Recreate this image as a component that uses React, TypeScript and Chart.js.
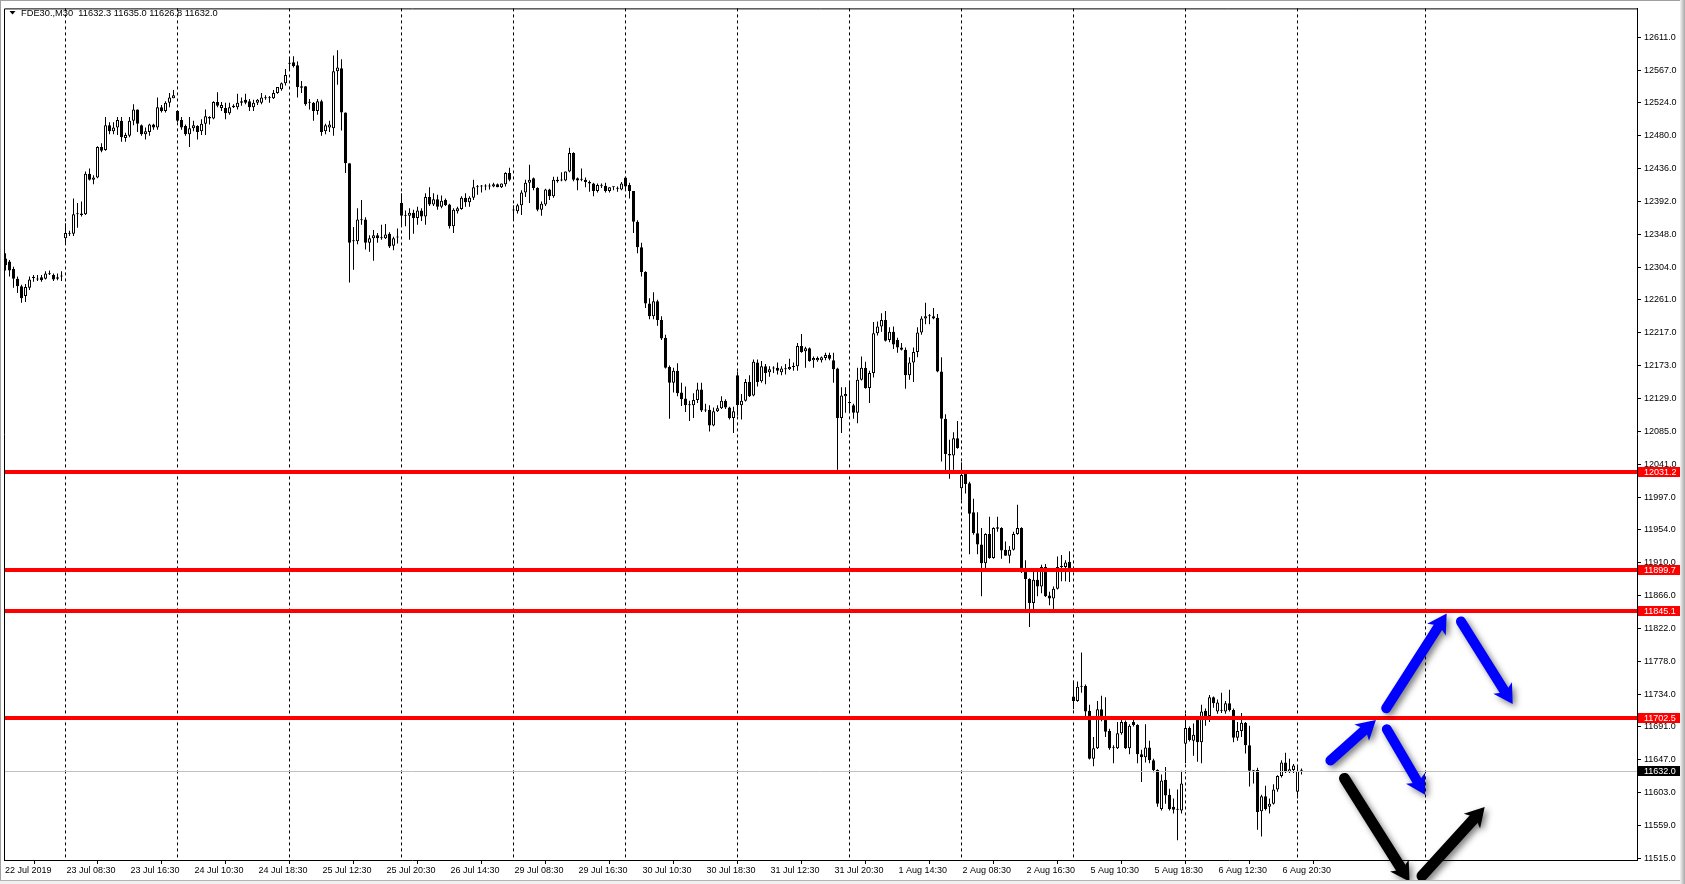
import React, { useEffect, useRef } from 'react';
import { Chart, registerables } from 'chart.js';

Chart.register(...registerables);

const SYMBOL = 'FDE30.,M30';

const opens = [
  12316, 12312, 12302, 12289, 12279, 12266, 12277, 12290, 12288, 12291,
  12289, 12296, 12294, 12289, 12292, 12343, 12349, 12349, 12375, 12376,
  12375, 12429, 12421, 12424, 12465, 12461, 12494, 12486, 12491, 12500,
  12477, 12480, 12500, 12515, 12494, 12482, 12485, 12495, 12491, 12518,
  12513, 12524, 12530, 12513, 12501, 12493, 12482, 12490, 12493, 12486,
  12496, 12503, 12503, 12525, 12517, 12517, 12510, 12518, 12518, 12524,
  12528, 12526, 12518, 12524, 12524, 12531, 12530, 12530, 12537, 12542,
  12550, 12576, 12578, 12574, 12544, 12546, 12524, 12524, 12513, 12526,
  12486, 12491, 12490, 12566, 12570, 12511, 12443, 12339, 12339, 12368,
  12368, 12337, 12343, 12347, 12343, 12343, 12349, 12333, 12344, 12390,
  12373, 12373, 12377, 12370, 12380, 12372, 12398, 12388, 12395, 12385,
  12394, 12388, 12359, 12379, 12382, 12397, 12391, 12397, 12411, 12412,
  12412, 12412, 12412, 12415, 12411, 12415, 12430, 12380, 12379, 12387,
  12404, 12417, 12423, 12410, 12381, 12388, 12408, 12399, 12421, 12420,
  12420, 12432, 12457, 12423, 12421, 12421, 12418, 12416, 12406, 12413,
  12413, 12406, 12411, 12409, 12408, 12424, 12414, 12406, 12365, 12331,
  12298, 12256, 12239, 12259, 12234, 12210, 12171, 12150, 12166, 12137,
  12129, 12120, 12120, 12127, 12141, 12113, 12114, 12093, 12112, 12116,
  12126, 12117, 12103, 12160, 12120, 12126, 12151, 12133, 12177, 12152,
  12172, 12164, 12169, 12170, 12164, 12168, 12168, 12171, 12172, 12199,
  12192, 12196, 12180, 12180, 12180, 12183, 12187, 12180, 12169, 12103,
  12132, 12123, 12120, 12110, 12154, 12170, 12143, 12163, 12216, 12225,
  12234, 12207, 12218, 12207, 12197, 12194, 12160, 12177, 12191, 12217,
  12236, 12239, 12239, 12237, 12165, 12102, 12055, 12053, 12076, 12009,
  12030, 12016, 11977, 11949, 11934, 11909, 11948, 11916, 11955, 11956,
  11927, 11919, 11927, 11948, 11956, 11901, 11888, 11856, 11887, 11878,
  11904, 11866, 11862, 11875, 11904, 11904, 11911, 11731, 11725, 11744,
  11745, 11712, 11648, 11662, 11714, 11705, 11685, 11662, 11662, 11682,
  11697, 11662, 11697, 11693, 11654, 11650, 11663, 11646, 11633, 11581,
  11620, 11600, 11584, 11580, 11579, 11668, 11689, 11672, 11701, 11670,
  11712, 11705, 11730, 11711, 11712, 11711, 11722, 11713, 11676, 11685,
  11696, 11666, 11632, 11633, 11578, 11598, 11584, 11588, 11607, 11625,
  11643, 11630, 11633, 11604, 11632.3,
];

const highs = [
  12323, 12314, 12305, 12292, 12281, 12282, 12292, 12294, 12294, 12294,
  12299, 12300, 12296, 12296, 12299, 12363, 12353, 12396, 12390, 12392,
  12432, 12436, 12427, 12466, 12470, 12505, 12498, 12498, 12505, 12505,
  12484, 12505, 12522, 12515, 12495, 12491, 12496, 12496, 12531, 12521,
  12526, 12537, 12541, 12514, 12505, 12495, 12505, 12500, 12494, 12502,
  12515, 12506, 12526, 12538, 12525, 12524, 12524, 12522, 12536, 12531,
  12536, 12529, 12528, 12529, 12537, 12534, 12533, 12541, 12545, 12551,
  12569, 12584, 12586, 12579, 12553, 12546, 12529, 12525, 12529, 12528,
  12496, 12500, 12587, 12594, 12582, 12511, 12443, 12358, 12383, 12394,
  12371, 12347, 12354, 12350, 12361, 12362, 12351, 12345, 12356, 12403,
  12380, 12383, 12381, 12385, 12383, 12403, 12411, 12403, 12401, 12400,
  12396, 12389, 12383, 12385, 12399, 12403, 12399, 12421, 12414, 12414,
  12415, 12416, 12417, 12416, 12416, 12431, 12437, 12387, 12389, 12407,
  12421, 12441, 12424, 12411, 12392, 12409, 12409, 12425, 12425, 12431,
  12432, 12464, 12458, 12424, 12436, 12424, 12420, 12417, 12416, 12416,
  12417, 12411, 12412, 12412, 12418, 12425, 12417, 12406, 12367, 12337,
  12299, 12263, 12271, 12261, 12239, 12214, 12173, 12170, 12176, 12150,
  12145, 12126, 12136, 12150, 12150, 12122, 12120, 12117, 12120, 12132,
  12128, 12118, 12118, 12165, 12135, 12155, 12160, 12181, 12181, 12179,
  12175, 12172, 12172, 12177, 12172, 12175, 12182, 12177, 12203, 12215,
  12198, 12197, 12185, 12185, 12185, 12190, 12190, 12190, 12170, 12144,
  12144, 12150, 12122, 12170, 12185, 12178, 12166, 12231, 12232, 12243,
  12246, 12224, 12225, 12210, 12203, 12197, 12184, 12197, 12224, 12239,
  12257, 12242, 12250, 12242, 12184, 12108, 12074, 12084, 12099, 12044,
  12031, 12018, 11995, 11977, 11956, 11949, 11971, 11957, 11971, 11957,
  11938, 11932, 11951, 11987, 11957, 11913, 11889, 11902, 11900, 11907,
  11908, 11871, 11878, 11918, 11920, 11913, 11925, 11752, 11751, 11790,
  11747, 11720, 11677, 11725, 11732, 11730, 11688, 11666, 11697, 11702,
  11699, 11694, 11704, 11694, 11660, 11694, 11672, 11648, 11634, 11627,
  11637, 11608, 11595, 11607, 11632, 11708, 11691, 11695, 11702, 11720,
  11715, 11733, 11731, 11727, 11736, 11725, 11740, 11715, 11697, 11709,
  11697, 11692, 11633, 11636, 11600, 11612, 11595, 11614, 11626, 11646,
  11656, 11648, 11641, 11638, 11635.0,
];

const lows = [
  12300, 12292, 12277, 12270, 12257, 12258, 12274, 12285, 12286, 12285,
  12288, 12294, 12286, 12287, 12286, 12336, 12346, 12346, 12357, 12372,
  12374, 12420, 12415, 12423, 12458, 12460, 12482, 12482, 12481, 12472,
  12472, 12478, 12494, 12485, 12480, 12475, 12480, 12488, 12488, 12511,
  12511, 12518, 12530, 12498, 12488, 12480, 12465, 12486, 12475, 12481,
  12481, 12495, 12502, 12518, 12513, 12502, 12508, 12517, 12515, 12520,
  12522, 12513, 12513, 12521, 12522, 12528, 12524, 12529, 12536, 12540,
  12547, 12567, 12571, 12531, 12537, 12520, 12515, 12500, 12508, 12480,
  12482, 12485, 12480, 12548, 12487, 12430, 12284, 12301, 12335, 12361,
  12328, 12325, 12313, 12337, 12341, 12342, 12330, 12327, 12336, 12359,
  12359, 12341, 12349, 12361, 12366, 12361, 12386, 12386, 12381, 12383,
  12386, 12356, 12350, 12376, 12381, 12385, 12385, 12394, 12401, 12404,
  12407, 12408, 12411, 12411, 12410, 12412, 12419, 12367, 12376, 12374,
  12398, 12390, 12407, 12379, 12373, 12386, 12394, 12397, 12417, 12419,
  12419, 12431, 12419, 12407, 12419, 12411, 12405, 12399, 12404, 12410,
  12404, 12404, 12407, 12405, 12407, 12407, 12396, 12350, 12323, 12292,
  12250, 12235, 12235, 12226, 12207, 12169, 12102, 12137, 12132, 12119,
  12111, 12099, 12103, 12123, 12111, 12111, 12085, 12092, 12111, 12115,
  12115, 12101, 12083, 12106, 12101, 12125, 12131, 12132, 12145, 12150,
  12148, 12158, 12163, 12161, 12160, 12161, 12167, 12166, 12166, 12190,
  12170, 12178, 12170, 12178, 12177, 12180, 12180, 12150, 12034, 12083,
  12110, 12110, 12102, 12096, 12153, 12142, 12123, 12157, 12213, 12218,
  12205, 12204, 12195, 12190, 12193, 12142, 12154, 12151, 12184, 12214,
  12228, 12228, 12235, 12164, 12045, 12030, 12022, 12034, 12062, 11993,
  12002, 11921, 11947, 11921, 11865, 11902, 11915, 11915, 11951, 11915,
  11919, 11909, 11926, 11947, 11896, 11845, 11824, 11848, 11865, 11869,
  11864, 11853, 11848, 11874, 11885, 11885, 11884, 11714, 11724, 11736,
  11705, 11647, 11638, 11661, 11698, 11677, 11660, 11642, 11661, 11680,
  11661, 11654, 11691, 11642, 11617, 11643, 11642, 11630, 11584, 11579,
  11588, 11579, 11575, 11539, 11575, 11642, 11671, 11652, 11644, 11642,
  11692, 11697, 11716, 11708, 11709, 11708, 11711, 11670, 11672, 11677,
  11655, 11611, 11615, 11553, 11544, 11579, 11575, 11587, 11604, 11623,
  11629, 11629, 11629, 11595, 11626.8,
];

const closes = [
  12307, 12300, 12289, 12279, 12263, 12278, 12288, 12291, 12289, 12287,
  12296, 12295, 12288, 12291, 12292, 12350, 12350, 12375, 12375, 12374,
  12429, 12421, 12424, 12465, 12460, 12494, 12486, 12491, 12501, 12478,
  12481, 12500, 12515, 12496, 12482, 12486, 12495, 12491, 12518, 12513,
  12524, 12531, 12534, 12500, 12491, 12482, 12490, 12494, 12485, 12496,
  12506, 12505, 12525, 12520, 12521, 12510, 12518, 12520, 12524, 12526,
  12524, 12518, 12524, 12528, 12531, 12530, 12530, 12537, 12545, 12550,
  12561, 12576, 12573, 12545, 12546, 12522, 12524, 12513, 12526, 12485,
  12494, 12495, 12566, 12571, 12511, 12443, 12337, 12339, 12368, 12367,
  12337, 12343, 12347, 12343, 12343, 12348, 12332, 12343, 12344, 12373,
  12373, 12377, 12370, 12380, 12372, 12398, 12388, 12395, 12385, 12393,
  12387, 12359, 12381, 12383, 12397, 12391, 12397, 12411, 12412, 12412,
  12412, 12413, 12415, 12411, 12416, 12430, 12421, 12380, 12387, 12404,
  12417, 12421, 12410, 12381, 12389, 12408, 12399, 12421, 12419, 12420,
  12432, 12457, 12421, 12420, 12421, 12418, 12416, 12406, 12414, 12413,
  12406, 12411, 12411, 12409, 12416, 12412, 12406, 12365, 12331, 12298,
  12256, 12239, 12259, 12234, 12209, 12170, 12150, 12166, 12136, 12128,
  12120, 12120, 12127, 12141, 12113, 12113, 12093, 12112, 12116, 12126,
  12117, 12103, 12112, 12120, 12126, 12151, 12132, 12178, 12151, 12172,
  12163, 12168, 12169, 12166, 12169, 12168, 12171, 12172, 12199, 12191,
  12196, 12179, 12183, 12183, 12184, 12187, 12182, 12168, 12103, 12133,
  12135, 12123, 12110, 12154, 12170, 12143, 12163, 12216, 12225, 12234,
  12206, 12218, 12201, 12197, 12194, 12160, 12177, 12191, 12217, 12236,
  12239, 12239, 12236, 12165, 12102, 12055, 12053, 12076, 12063, 12027,
  12015, 11975, 11949, 11934, 11909, 11948, 11916, 11956, 11957, 11926,
  11919, 11927, 11948, 11956, 11898, 11888, 11856, 11887, 11878, 11904,
  11865, 11862, 11875, 11904, 11904, 11910, 11899, 11725, 11744, 11745,
  11711, 11648, 11662, 11714, 11701, 11684, 11662, 11662, 11682, 11697,
  11662, 11692, 11693, 11654, 11650, 11663, 11646, 11633, 11588, 11619,
  11599, 11581, 11580, 11580, 11615, 11689, 11673, 11680, 11670, 11711,
  11705, 11730, 11722, 11723, 11713, 11722, 11713, 11676, 11685, 11696,
  11666, 11632, 11632, 11577, 11598, 11581, 11588, 11607, 11625, 11643,
  11630, 11634, 11639, 11632, 11632.0,
];

// visible bar range of the window (bar index units)
const X_MIN = -0.375;
const X_MAX = 407.875;
// visible price range of the window
const Y_MIN = 11512.75;
const Y_MAX = 12649.93;

const xTickBars = [X_MIN, 15, 31, 47, 63, 79, 95, 111, 127, 143, 159, 175, 191, 207, 223, 239, 255, 271, 287, 303, 319];
const xTickLabels = [
  '22 Jul 2019', '23 Jul 08:30', '23 Jul 16:30', '24 Jul 10:30', '24 Jul 18:30', '25 Jul 12:30',
  '25 Jul 20:30', '26 Jul 14:30', '29 Jul 08:30', '29 Jul 16:30', '30 Jul 10:30', '30 Jul 18:30',
  '31 Jul 12:30', '31 Jul 20:30', '1 Aug 14:30', '2 Aug 08:30', '2 Aug 16:30', '5 Aug 10:30',
  '5 Aug 18:30', '6 Aug 12:30', '6 Aug 20:30',
];
const gridBars = [15, 43, 71, 99, 127, 155, 183, 211, 239, 267, 295, 323, 355];

const yTickValues = [
  12611, 12567, 12524, 12480, 12436, 12392, 12348, 12304, 12261, 12217, 12173, 12129, 12085,
  12041, 11997, 11954, 11910, 11866, 11822, 11778, 11734, 11691, 11647, 11603, 11559, 11515,
];

const levelPrices = [12031.2, 11899.7, 11845.1, 11702.5];
const bidPrice = 11632.0;

// hand-drawn arrows: [tailBar, tailPrice, tipBar, tipPrice]
const blueArrows = [
  [330.3, 11641.2, 342.6, 11699.7],
  [344.5, 11709.7, 360.3, 11841.8],
  [363.2, 11836.9, 376.8, 11720.9],
  [344.7, 11693.0, 354.9, 11600.0],
];
const blackArrows = [
  [334.0, 11627.9, 351.0, 11483.9],
  [353.2, 11486.1, 369.8, 11583.5],
];

const FONT_FAMILY = "'Liberation Sans', Arial, sans-serif";

function drawArrow(c, x1, y1, x2, y2, color, w) {
  const dx = x2 - x1;
  const dy = y2 - y1;
  const len = Math.hypot(dx, dy);
  const ux = dx / len;
  const uy = dy / len;
  const px = -uy;
  const py = ux;
  const headLen = 19;
  const halfW = 11;
  const notch = 5;
  const bx = x2 - ux * (headLen - notch);
  const by = y2 - uy * (headLen - notch);
  c.strokeStyle = color;
  c.fillStyle = color;
  c.lineWidth = w;
  c.lineCap = 'round';
  c.beginPath();
  c.moveTo(x1 + ux * w / 2, y1 + uy * w / 2);
  c.lineTo(bx, by);
  c.stroke();
  c.beginPath();
  c.moveTo(x2, y2);
  c.lineTo(x2 - ux * headLen + px * halfW, y2 - uy * headLen + py * halfW);
  c.lineTo(bx, by);
  c.lineTo(x2 - ux * headLen - px * halfW, y2 - uy * headLen - py * halfW);
  c.closePath();
  c.fill();
}

const mt4Plugin = {
  id: 'mt4Overlay',
  beforeDraw(chart) {
    const { ctx, width, height } = chart;
    ctx.save();
    ctx.fillStyle = '#FFFFFF';
    ctx.fillRect(0, 0, width, height);
    ctx.restore();
  },
  beforeDatasetsDraw(chart) {
    const { ctx, chartArea, scales } = chart;
    ctx.save();
    ctx.strokeStyle = '#000000';
    ctx.lineWidth = 1;
    ctx.setLineDash([3, 3]);
    gridBars.forEach((b) => {
      const x = scales.x.getPixelForValue(b);
      ctx.beginPath();
      ctx.moveTo(x, chartArea.top);
      ctx.lineTo(x, chartArea.bottom);
      ctx.stroke();
    });
    ctx.restore();
  },
  afterDatasetsDraw(chart) {
    const { ctx, chartArea, scales } = chart;
    ctx.save();
    const yb = Math.round(scales.y.getPixelForValue(bidPrice)) + 0.5;
    ctx.strokeStyle = '#C0C0C0';
    ctx.lineWidth = 1;
    ctx.beginPath();
    ctx.moveTo(chartArea.left, yb);
    ctx.lineTo(chartArea.right, yb);
    ctx.stroke();
    ctx.fillStyle = '#FF0000';
    levelPrices.forEach((p) => {
      const y = Math.round(scales.y.getPixelForValue(p));
      ctx.fillRect(chartArea.left, y - 2, chartArea.right - chartArea.left, 4);
    });
    ctx.restore();
  },
  afterDraw(chart) {
    const { ctx, chartArea, scales, width, height } = chart;
    ctx.save();
    ctx.strokeStyle = '#000000';
    ctx.lineWidth = 1;
    ctx.beginPath();
    ctx.moveTo(chartArea.left + 0.5, chartArea.bottom);
    ctx.lineTo(chartArea.left + 0.5, chartArea.top + 0.5);
    ctx.lineTo(chartArea.right, chartArea.top + 0.5);
    ctx.stroke();

    ctx.font = `9px ${FONT_FAMILY}`;
    ctx.textBaseline = 'middle';
    ctx.textAlign = 'left';
    const labelX = chartArea.right + 1;
    const drawTag = (p, bg) => {
      const y = Math.round(scales.y.getPixelForValue(p));
      ctx.fillStyle = bg;
      ctx.fillRect(labelX, y - 5, 42, 10);
      ctx.fillStyle = '#FFFFFF';
      ctx.fillText(p.toFixed(1), chartArea.right + 7, y + 0.5);
    };
    levelPrices.forEach((p) => drawTag(p, '#FF0000'));
    drawTag(bidPrice, '#000000');

    const last = opens.length - 1;
    ctx.fillStyle = '#000000';
    ctx.beginPath();
    ctx.moveTo(9.5, 11);
    ctx.lineTo(15.5, 11);
    ctx.lineTo(12.5, 14.5);
    ctx.closePath();
    ctx.fill();
    ctx.font = `9.3px ${FONT_FAMILY}`;
    const header = `${SYMBOL}  ${opens[last].toFixed(1)} ${highs[last].toFixed(1)} ${lows[last].toFixed(1)} ${closes[last].toFixed(1)}`;
    ctx.fillText(header, 21, 13);

    const off = document.createElement('canvas');
    off.width = width;
    off.height = height;
    const oc = off.getContext('2d');
    const toPx = (a) => [
      scales.x.getPixelForValue(a[0]), scales.y.getPixelForValue(a[1]),
      scales.x.getPixelForValue(a[2]), scales.y.getPixelForValue(a[3]),
    ];
    blueArrows.forEach((a) => {
      const [x1, y1, x2, y2] = toPx(a);
      drawArrow(oc, x1, y1, x2, y2, '#0000FF', 10);
    });
    blackArrows.forEach((a) => {
      const [x1, y1, x2, y2] = toPx(a);
      drawArrow(oc, x1, y1, x2, y2, '#000000', 11);
    });
    ctx.save();
    ctx.shadowColor = 'rgba(0,0,0,0.5)';
    ctx.shadowBlur = 6;
    ctx.shadowOffsetX = 3;
    ctx.shadowOffsetY = 3;
    ctx.drawImage(off, 0, 0);
    ctx.restore();

    ctx.fillStyle = '#A0A0A0';
    ctx.fillRect(0, 0, width, 1);
    ctx.fillRect(0, 0, 1, height);
    ctx.fillStyle = '#B4B4B4';
    ctx.fillRect(0, 880, width - 5, 1);
    ctx.fillStyle = '#F0F0F0';
    ctx.fillRect(0, 881, width - 5, height - 881);
    const g = ctx.createLinearGradient(width - 5, 0, width, 0);
    g.addColorStop(0, '#F4F4F4');
    g.addColorStop(1, '#A8A8A8');
    ctx.fillStyle = g;
    ctx.fillRect(width - 5, 0, 5, height);
    ctx.restore();
  },
};

export default function App() {
  const canvasRef = useRef(null);

  useEffect(() => {
    document.body.style.margin = '0';
    document.body.style.overflow = 'hidden';
    const canvas = canvasRef.current;
    if (!canvas) return undefined;

    const bodyData = opens.map((o, i) => ({ x: i, y: [Math.min(o, closes[i]), Math.max(o, closes[i])] }));
    const bodyColors = opens.map((o, i) => (closes[i] > o ? '#FFFFFF' : '#000000'));
    const wickData = lows.map((l, i) => ({ x: i, y: [l, highs[i]] }));

    const tickFont = { family: FONT_FAMILY, size: 9 };

    const chart = new Chart(canvas, {
      type: 'bar',
      data: {
        datasets: [
          {
            label: 'body',
            data: bodyData,
            backgroundColor: bodyColors,
            borderColor: '#000000',
            borderWidth: 1,
            borderSkipped: false,
            maxBarThickness: 3,
            barPercentage: 1,
            categoryPercentage: 1,
            minBarLength: 1,
            grouped: false,
            inflateAmount: 0,
          },
          {
            label: 'wick',
            data: wickData,
            backgroundColor: '#000000',
            borderWidth: 0,
            maxBarThickness: 1,
            barPercentage: 1,
            categoryPercentage: 1,
            minBarLength: 1,
            grouped: false,
            inflateAmount: 0,
          },
        ],
      },
      options: {
        responsive: false,
        animation: false,
        devicePixelRatio: 1,
        events: [],
        layout: { padding: { left: 4, top: 4, right: 0, bottom: 0 } },
        plugins: { legend: { display: false }, tooltip: { enabled: false }, title: { display: false } },
        scales: {
          x: {
            type: 'linear',
            min: X_MIN,
            max: X_MAX,
            offset: false,
            bounds: 'data',
            grid: { display: true, drawOnChartArea: false, drawTicks: true, tickLength: 4, color: '#000000' },
            border: { display: true, color: '#000000' },
            ticks: {
              autoSkip: false,
              maxRotation: 0,
              minRotation: 0,
              align: 'start',
              labelOffset: 1,
              padding: 1,
              color: '#000000',
              font: tickFont,
              callback: (v, i) => xTickLabels[i] ?? '',
            },
            afterBuildTicks: (scale) => {
              scale.ticks = xTickBars.map((v) => ({ value: v }));
            },
            afterFit: (scale) => {
              scale.height = 24;
            },
          },
          y: {
            type: 'linear',
            position: 'right',
            min: Y_MIN,
            max: Y_MAX,
            bounds: 'data',
            grid: { display: true, drawOnChartArea: false, drawTicks: true, tickLength: 4, color: '#000000' },
            border: { display: true, color: '#000000' },
            ticks: {
              autoSkip: false,
              padding: 3,
              color: '#000000',
              font: tickFont,
              callback: (v) => Number(v).toFixed(1),
            },
            afterBuildTicks: (scale) => {
              scale.ticks = yTickValues.map((v) => ({ value: v }));
            },
            afterFit: (scale) => {
              scale.width = 48;
            },
          },
        },
      },
      plugins: [mt4Plugin],
    });

    return () => {
      chart.destroy();
    };
  }, []);

  return (
    <canvas
      ref={canvasRef}
      width={1685}
      height={884}
      style={{ display: 'block', width: '1685px', height: '884px' }}
    />
  );
}
